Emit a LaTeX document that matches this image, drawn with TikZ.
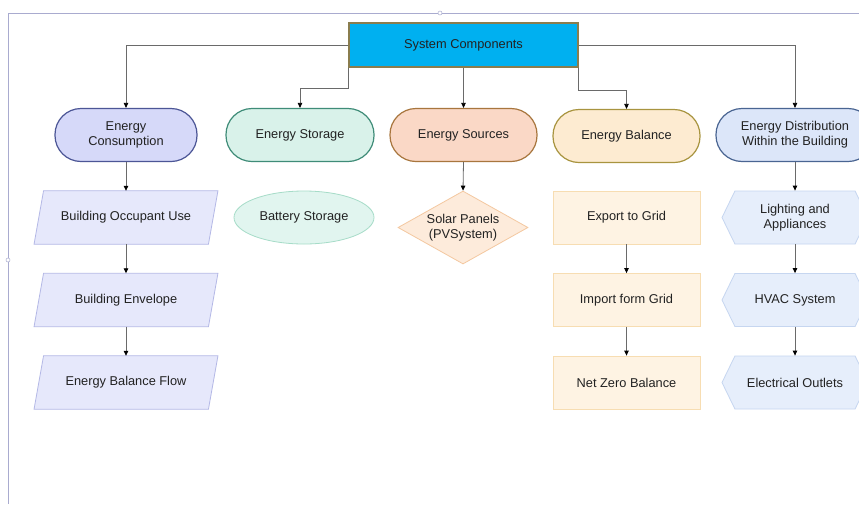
\documentclass[tikz,border=0pt]{standalone}
\usepackage{fontspec}
\setmainfont{Liberation Sans}
\usetikzlibrary{shapes.geometric,shapes.symbols,arrows.meta}
\pgfdeclarelayer{background}
\pgfsetlayers{background,main}
\definecolor{scfill}{HTML}{00B0F0}
\definecolor{scdraw}{HTML}{8A7D4E}
\definecolor{ecfill}{HTML}{D6D9F9}\definecolor{ecdraw}{HTML}{4C5696}
\definecolor{esfill}{HTML}{D9F2EA}\definecolor{esdraw}{HTML}{3F8C78}
\definecolor{srfill}{HTML}{FAD8C6}\definecolor{srdraw}{HTML}{A8763E}
\definecolor{ebfill}{HTML}{FDEBD1}\definecolor{ebdraw}{HTML}{A8943F}
\definecolor{edfill}{HTML}{DCE6F9}\definecolor{eddraw}{HTML}{4A6592}
\definecolor{pgfill}{HTML}{E6E8FB}\definecolor{pgdraw}{HTML}{B4B8E6}
\definecolor{elfill}{HTML}{E1F5EF}\definecolor{eldraw}{HTML}{A6DCC8}
\definecolor{dmfill}{HTML}{FDEBDB}\definecolor{dmdraw}{HTML}{F4C8A0}
\definecolor{rcfill}{HTML}{FEF3E3}\definecolor{rcdraw}{HTML}{F7DDB2}
\definecolor{hxfill}{HTML}{E6EEFB}\definecolor{hxdraw}{HTML}{C6D6F0}
\definecolor{frame}{HTML}{A9ABCF}
\definecolor{conn}{HTML}{6A6A6A}
\definecolor{txtc}{HTML}{222222}
\tikzset{
  txt/.style={font=\fontsize{12.8pt}{15pt}\selectfont, align=center, text=txtc, inner sep=0pt},
  stadium/.style={txt, rectangle, rounded corners=26pt, minimum height=53pt, line width=1.2pt},
  para/.style={txt, rectangle, minimum width=174pt, minimum height=53pt},
  parashape/.style={fill=pgfill, draw=pgdraw, line width=0.8pt},
  rectb/.style={txt, rectangle, minimum width=147pt, minimum height=53pt, fill=rcfill, draw=rcdraw, line width=0.8pt},
  hexb/.style={txt, signal, signal to=west and east, signal pointer angle=128, minimum width=146pt, minimum height=53pt, fill=hxfill, draw=hxdraw, line width=0.8pt},
  arr/.style={draw=conn, line width=0.8pt, -{Triangle[width=4.5pt,length=5pt,fill=black,color=black]}}
}
\begin{document}
\begin{tikzpicture}[x=1pt,y=-1pt]
\useasboundingbox (0,0) rectangle (859,504);
\begin{pgfonlayer}{background}
\fill[white] (0,0) rectangle (859,504);
\end{pgfonlayer}
% frame
\draw[frame, line width=0.8pt] (8,504) -- (8,13) -- (859,13);
\draw[frame, fill=white, line width=0.5pt] (440,13) circle (2pt);
\draw[frame, fill=white, line width=0.5pt] (8,260) circle (2pt);

\node[txt, rectangle, minimum width=229pt, minimum height=44pt, fill=scfill, draw=scdraw, line width=1.2pt] (sc) at (463.5,45) {System Components};

\node[stadium, minimum width=142pt, fill=ecfill, draw=ecdraw] (ec) at (126,135) {Energy\\Consumption};
\node[stadium, minimum width=148pt, fill=esfill, draw=esdraw] (es) at (300,135) {Energy Storage};
\node[stadium, minimum width=147pt, fill=srfill, draw=srdraw] (sr) at (463.5,135) {Energy Sources};
\node[stadium, minimum width=147pt, fill=ebfill, draw=ebdraw] (eb) at (626.5,136) {Energy Balance};
\node[stadium, minimum width=158pt, fill=edfill, draw=eddraw] (ed) at (795,135) {Energy Distribution\\Within the Building};

\node[para] (p1) at (126,217.5) {Building Occupant Use};
\node[para] (p2) at (126,300) {Building Envelope};
\node[para] (p3) at (126,382.5) {Energy Balance Flow};
\begin{pgfonlayer}{background}
\foreach \p in {p1,p2,p3}{
  \draw[parashape] ([xshift=-4.75pt]\p.south west) -- ([xshift=4.75pt]\p.north west)
     -- ([xshift=4.75pt]\p.north east) -- ([xshift=-4.75pt]\p.south east) -- cycle;
}
\end{pgfonlayer}

\node[txt, ellipse, minimum width=140pt, minimum height=53pt, fill=elfill, draw=eldraw, line width=0.8pt] (bs) at (304,217.5) {Battery Storage};

\node[txt, diamond, aspect=1.78, minimum width=130pt, minimum height=73pt, fill=dmfill, draw=dmdraw, line width=0.8pt] (sp) at (463,227.5) {Solar Panels\\(PVSystem)};

\node[rectb] (r1) at (626.5,217.5) {Export to Grid};
\node[rectb] (r2) at (626.5,300) {Import form Grid};
\node[rectb] (r3) at (626.5,382.5) {Net Zero Balance};

\node[hexb] (h1) at (795,217.5) {Lighting and\\Appliances};
\node[hexb] (h2) at (795,300) {HVAC System};
\node[hexb] (h3) at (795,382.5) {Electrical Outlets};

% connectors
\draw[arr] (sc.west) -| (ec.north);
\draw[arr] (sc.south west) -- ++(0,21) -| (es.north);
\draw[arr] (sc.south) -- (sr.north);
\draw[arr] (sc.south east) -- ++(0,23) -| (eb.north);
\draw[arr] (sc.east) -| (ed.north);

\draw[arr] (ec.south) -- (p1.north);
\draw[arr] (p1.south) -- (p2.north);
\draw[arr] (p2.south) -- (p3.north);
\draw[arr] (sr.south) -- (sp.north);
\draw[arr] (r1.south) -- (r2.north);
\draw[arr] (r2.south) -- (r3.north);
\draw[arr] (ed.south) -- (h1.north);
\draw[arr] (h1.south) -- (h2.north);
\draw[arr] (h2.south) -- (h3.north);
\end{tikzpicture}
\end{document}
